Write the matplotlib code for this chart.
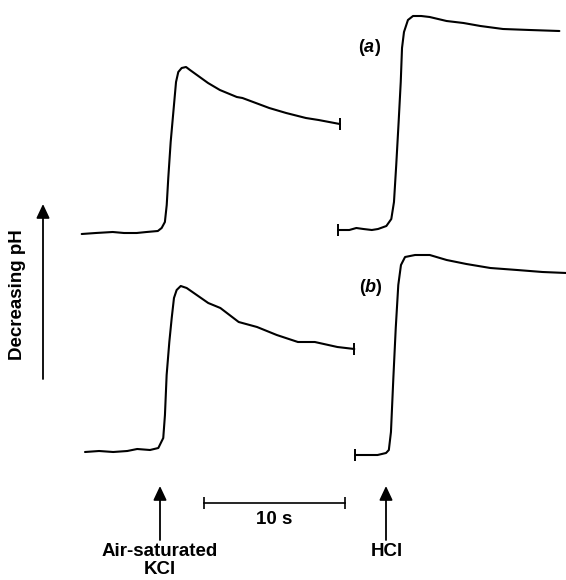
import numpy as np
import matplotlib
matplotlib.use("Agg")
import matplotlib.pyplot as plt

plt.rcParams['font.family'] = ['Liberation Sans', 'DejaVu Sans']
plt.rcParams['mathtext.fontset'] = 'custom'
plt.rcParams['mathtext.it'] = 'Liberation Sans:bold:italic'

# chart scale: recorder paper speed (px per s)
PX_PER_S = 14.1

# trace (a), air-saturated KCl: time (s) from start, pen deflection (a.u.)
t_a_kcl = [0, 1.0, 2.2, 3.0, 3.9, 4.6, 5.4, 5.67, 5.9, 6.03, 6.14, 6.31, 6.5,
           6.69, 6.85, 7.09, 7.4, 7.68, 8.96, 9.8, 11.0, 11.4, 13.3, 14.5,
           15.9, 16.8, 18.3]
y_a_kcl = [-1, 0, 1, 0, 0, 1, 2, 5, 11, 28, 55, 91, 121,
           151, 161, 165, 166, 163, 150, 143, 136, 135, 125, 120,
           115, 113, 109]

# trace (a), HCl
t_a_hcl = [0, 0.8, 1.3, 1.8, 2.4, 2.84, 3.43, 3.78, 3.97, 4.13, 4.3, 4.45,
           4.54, 4.68, 4.96, 5.32, 5.9, 6.5, 7.7, 8.9, 10.1, 11.7, 13.6, 15.7]
y_a_hcl = [0, 0, 2, 1, 0, 1, 4, 11, 28, 65, 108, 148,
           182, 198, 210, 214, 214, 213, 209, 207, 204, 201, 200, 199]

# trace (b), air-saturated KCl
t_b_kcl = [0, 1.0, 2.0, 3.0, 3.7, 4.61, 5.2, 5.55, 5.67, 5.79, 5.98, 6.15,
           6.31, 6.5, 6.79, 7.21, 8.74, 9.6, 10.9, 12.2, 13.6, 15.1, 16.3,
           17.9, 19.1]
y_b_kcl = [-1, 0, -1, 0, 2, 1, 3, 13, 36, 76, 109, 133,
           153, 161, 165, 163, 148, 143, 129, 124, 116, 109, 109,
           104, 102]

# trace (b), HCl
t_b_hcl = [0, 0.8, 1.6, 2.2, 2.4, 2.55, 2.72, 2.89, 3.07, 3.26, 3.55, 4.26,
           5.3, 6.5, 7.9, 9.6, 11.5, 13.3, 15.0]
y_b_hcl = [-1, -1, -1, 1, 4, 22, 76, 126, 169, 189, 197, 199,
           199, 194, 190, 186, 184, 182, 181]

labels_panel = ["($\\it{a}$)", "($\\it{b}$)"]
label_kcl = ["Air-saturated", "KCl"]
label_hcl = "HCl"
label_y = "Decreasing pH"
scale_s = 10

# layout: (start x px, baseline y px) for each trace
traces = [
    (t_a_kcl, y_a_kcl, 81.7, 233, 'end'),
    (t_a_hcl, y_a_hcl, 338, 230, 'start'),
    (t_b_kcl, y_b_kcl, 85, 451, 'end'),
    (t_b_hcl, y_b_hcl, 355, 454, 'start'),
]

fig = plt.figure(figsize=(5.66, 5.80), dpi=100)
ax = fig.add_axes([0, 0, 1, 1])
ax.set_xlim(0, 566)
ax.set_ylim(580, 0)
ax.axis('off')

for t, y, x0, base, tick in traces:
    xs = x0 + np.array(t) * PX_PER_S
    ys = base - np.array(y)
    ax.plot(xs, ys, color='black', lw=1.5, solid_joinstyle='round',
            solid_capstyle='round')
    i = -1 if tick == 'end' else 0
    ax.plot([xs[i]], [ys[i]], marker='|', ms=9, mew=1.4, color='black')

ax.text(358, 47, labels_panel[0], fontsize=13, fontweight='bold', va='center')
ax.text(359, 288, labels_panel[1], fontsize=13, fontweight='bold', va='center')

arrow = dict(arrowstyle='-|>,head_length=0.85,head_width=0.4', lw=1.3,
             color='black', shrinkA=0, shrinkB=0)
ax.annotate('', xy=(43, 204), xytext=(43, 379), arrowprops=arrow)
ax.text(18, 295, label_y, rotation=90, fontsize=13.5, fontweight='bold',
        ha='center', va='center')

# injection arrows
ax.annotate('', xy=(160, 486), xytext=(160, 540), arrowprops=arrow)
ax.annotate('', xy=(386, 486), xytext=(386, 540), arrowprops=arrow)
ax.text(160, 551, label_kcl[0], fontsize=13.5, fontweight='bold', ha='center',
        va='center')
ax.text(160, 570, label_kcl[1], fontsize=13.5, fontweight='bold', ha='center',
        va='center')
ax.text(387, 551, label_hcl, fontsize=13.5, fontweight='bold', ha='center',
        va='center')

# time scale bar
x_bar = 203.5
ax.plot([x_bar, x_bar + scale_s * PX_PER_S], [503, 503], color='black', lw=1.2,
        marker='|', ms=9, mew=1.2)
ax.text(x_bar + scale_s * PX_PER_S / 2, 519, f"{scale_s} s", fontsize=13.5,
        fontweight='bold', ha='center', va='center')

fig.savefig("out.png", dpi=100)
